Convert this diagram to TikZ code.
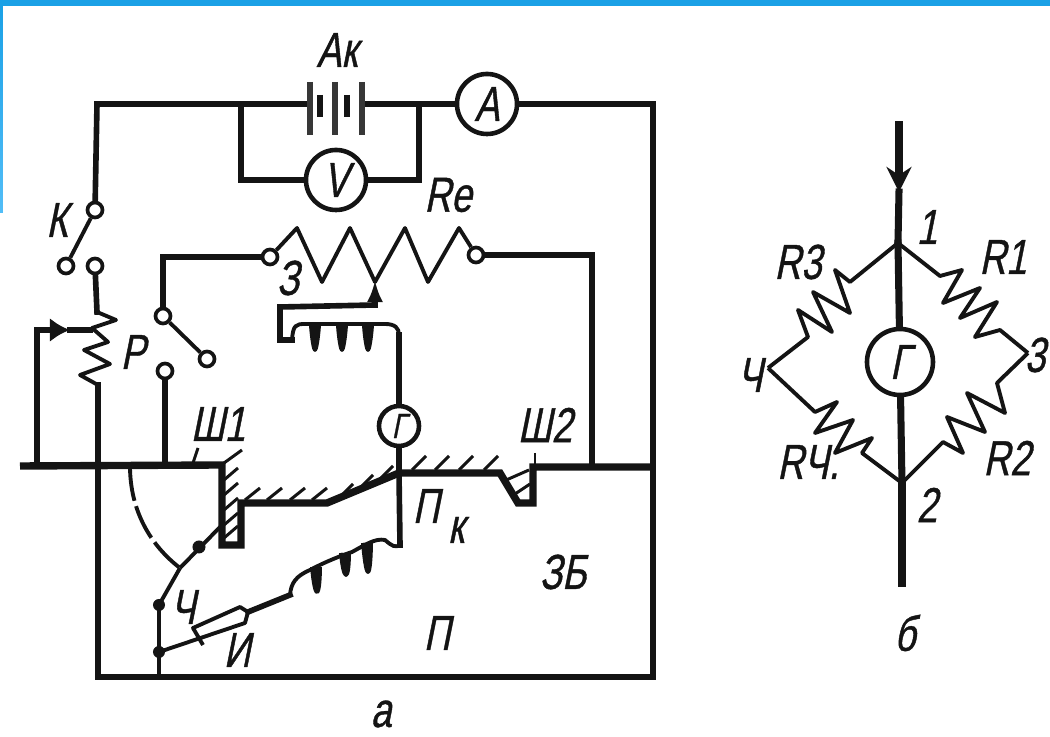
\documentclass[tikz,border=0pt]{standalone}
\usepackage{fontspec}
\newfontfamily\sketchfont[FakeStretch=0.75,FakeSlant=0.2,FakeBold=0.8]{Liberation Sans}
\usetikzlibrary{arrows.meta}
\definecolor{barblue}{HTML}{1BA1E6}
\definecolor{barlight}{HTML}{52BDF7}
\definecolor{ink}{HTML}{141414}
\begin{document}
\begin{tikzpicture}
  [x=.01cm,y=-.01cm,every node/.style={font=\sketchfont\fontsize{14}{16}\selectfont,text=ink,inner sep=0pt},
   wire/.style={draw=ink,line width=1.6pt,line cap=rect},
   thin/.style={draw=ink,line width=1.1pt,line join=round},
   bar/.style={draw=ink,line width=2.1pt,line join=miter},
   hatch/.style={draw=ink,line width=.85pt},
   meter/.style={circle,draw=ink,line width=1.3pt,minimum size=.6cm,fill=white},
   term/.style={circle,draw=ink,line width=1.05pt,minimum size=.15cm,fill=white},
   blob/.style={circle,fill=ink,minimum size=.12cm}]
  \useasboundingbox (0,0) rectangle (1050,737);
  \fill[barblue] (0,0) rectangle (1050,6);
  \shade[top color=barblue,bottom color=barlight] (0,6) rectangle (3,213);

  % meters and terminals
  \node (ma)[meter] at (487,104) {A};
  \node (mv)[meter] at (336,180) {V};
  \node (mg)[meter,minimum size=.4cm] at (399,426) {\fontsize{10}{12}\selectfont Г};
  \node (mb)[meter,minimum size=.66cm] at (900,362) {Г};
  \node (tk)[term] at (95,210) {};
  \node (tl)[term] at (66,266) {};
  \node (tr)[term] at (95,266) {};
  \node (ts)[term] at (163,316) {};
  \node (te)[term] at (207,359) {};
  \node (tf)[term] at (165,371) {};
  \node (t3)[term] at (270,257) {};
  \node (t4)[term] at (476,255) {};

  % wire corners and junctions
  \coordinate (c1) at (97,104);
  \coordinate (c2) at (241,104);
  \coordinate (c3) at (241,180);
  \coordinate (c4) at (419,104);
  \coordinate (c5) at (419,180);
  \coordinate (c6) at (653,104);
  \coordinate (c7) at (653,677);
  \coordinate (c8) at (98,677);
  \coordinate (c9) at (98,385);
  \coordinate (c10) at (97,312);
  \coordinate (c11) at (163,257);
  \coordinate (c12) at (592,255);
  \coordinate (c13) at (592,467);
  \coordinate (c14) at (37,330);
  \coordinate (c15) at (37,465);
  \coordinate (c17) at (165,465);
  \coordinate (c18) at (159,677);
  \coordinate (c19) at (399,473);
  \coordinate (c20) at (400,545);
  \coordinate (c21) at (399,335);
  \coordinate (b1) at (310,104);
  \coordinate (b2) at (362,104);

  \foreach \from/\to in {c1/b1,c1/tk,c2/c3,c3/mv,mv/c5,c5/c4,b2/ma,ma/c6,c6/c7,c7/c8,c8/c9,
                         tr/c10,c11/ts,c11/t3,t4/c12,c12/c13,c14/c15,tf/c17,c21/mg,mg/c19,c19/c20}
    \draw[wire] (\from) -- (\to);
  \draw[thin] (tk) -- (tl);
  \draw[thin] (ts) -- (te);

  % battery
  \foreach \x in {310,335,362}
    \draw[draw=ink!85,line width=1.6pt] (\x,82) -- (\x,135);
  \foreach \x in {320,347}
    \draw[draw=ink,line width=1.8pt] (\x,95) -- (\x,117);

  % resistors
  \draw[thin] (c10) -- (116,320) -- (92,328) -- (108,342) -- (84,350) -- (110,364) -- (80,375) -- (c9);
  \draw[thin] (t3) -- (297,228) -- (322,282) -- (350,228) -- (375,282) -- (405,228) -- (428,282) -- (459,228) -- (t4);

  % sliders
  \coordinate (s1) at (70,330);
  \coordinate (s2) at (90,330);
  \coordinate (s3) at (375,305);
  \coordinate (s4) at (375,280);
  \coordinate (s5) at (280,307);
  \coordinate (s6) at (280,340);
  \coordinate (s7) at (292,340);
  \draw[wire,-{Latex[length=.2cm,width=.24cm]}] (c14) -- (s1);
  \draw[wire] (s1) -- (s2);
  \draw[wire,-{Latex[length=.22cm,width=.16cm]}] (s3) -- (s4);
  \draw[wire] (s3) -- (s5) -- (s6) -- (s7);

  % upper coil
  \draw[thin] (s7) .. controls (293,325) and (296,324) .. (305,324) -- (385,324) .. controls (395,324) and (399,328) .. (c21);
  \foreach \x in {315,342,368}
    \draw[thin,fill=ink] (\x-4,326) .. controls (\x-3,340) and (\x-1,350) .. (\x,350) .. controls (\x+1,350) and (\x+3,340) .. (\x+4,326);

  % main bar and plate
  \coordinate (p1) at (222,465);
  \coordinate (p2) at (20,466);
  \draw[bar] (p2) -- (p1) -- (222,545) -- (241,545) -- (241,503) -- (327,503) -- (c19) -- (500,473) -- (518,503) -- (533,503) -- (533,467) -- (c7 |- c13);
  \foreach \x in {253,275,298,320}
    \draw[hatch] (\x-8,500) -- (\x+7,488);
  \foreach \x/\y in {340/497,360/488,380/479}
    \draw[hatch] (\x,\y) -- (\x+13,\y-13);
  \foreach \x in {412,435,459,484}
    \draw[hatch] (\x,470) -- (\x+14,456);
  \foreach \y in {480,495,510,525,538}
    \draw[hatch] (224,\y) -- (238,\y-12);
  \draw[hatch] (224,463) -- (242,450);
  \draw[hatch] (504,481) -- (529,470);
  \draw[hatch] (512,496) -- (530,484);

  % couple wires
  \coordinate (d1) at (130,466);
  \coordinate (d2) at (180,568);
  \coordinate (d3) at (222,525);
  \coordinate (d4) at (159,652);
  \coordinate (d5) at (159,605);
  \coordinate (d6) at (248,612);
  \coordinate (d7) at (290,595);
  \draw[thin,dash pattern=on 10pt off 1.6pt] (d1) .. controls (130,510) and (150,545) .. (d2);
  \draw[thin] (d2) -- (d3);
  \draw[thin] (d2) -- (d5) -- (d4) -- (c18);
  \node (b3)[blob,minimum size=.13cm] at (199,547) {};
  \node (b4)[blob] at (d5) {};
  \node (b5)[blob] at (d4) {};

  % heater
  \draw[thin] (d4) -- (245,623) -- (d6) -- (240,607) -- (193,628) -- (203,645);
  \draw[wire] (d6) -- (d7);

  % lower coil
  \draw[thin] (d7) .. controls (291,583) and (296,576) .. (310,570) .. controls (325,562) and (340,556) .. (352,552) .. controls (365,545) and (375,538) .. (385,540) .. controls (392,546) and (395,548) .. (c20);
  \foreach \x/\y/\z in {316/567/592,345/553/575,367/543/572}
    \draw[thin,fill=ink] (\x-4,\y) .. controls (\x-3,\y+12) and (\x-1,\z) .. (\x+1,\z) .. controls (\x+3,\z) and (\x+4,\y+12) .. (\x+4,\y);

  % bridge
  \coordinate (j1) at (898,243);
  \coordinate (j2) at (902,483);
  \coordinate (j3) at (1028,353);
  \coordinate (j4) at (768,368);
  \coordinate (a1) at (899,125);
  \coordinate (a2) at (899,192);
  \coordinate (a3) at (902,583);
  \draw[wire,line width=2pt,-{Stealth[length=.25cm,width=.25cm]}] (a1) -- (a2);
  \foreach \from/\to in {a2/j1,j1/mb,mb/j2,j2/a3}
    \draw[wire,line width=2pt] (\from) -- (\to);
  \draw[thin] (j1) -- (850,282) -- (835,270) -- (850,313) -- (813,292) -- (832,332) -- (798,310) -- (808,337) -- (j4);
  \draw[thin] (j1) -- (940,276) -- (962,270) -- (943,303) -- (980,288) -- (960,318) -- (997,302) -- (975,337) -- (1000,330) -- (j3);
  \draw[thin] (j3) -- (997,383) -- (1005,413) -- (967,393) -- (985,432) -- (947,417) -- (963,453) -- (943,442) -- (j2);
  \draw[thin] (j4) -- (815,412) -- (837,402) -- (815,433) -- (853,420) -- (835,453) -- (872,438) -- (862,453) -- (j2);

  % labels
  \node (lak) at (337,50) {Ак};
  \node (lk) at (57,220) {К};
  \node (lre) at (448,195) {Re};
  \node (l3) at (288,278) {З};
  \node (lp) at (133,352) {Р};
  \node (lsh1) at (218,424) {Ш1};
  \node (lsh2) at (545,425) {Ш2};
  \node (lpk) at (426,506) {П};
  \node (lkk) at (456,530) {к};
  \node (lzb) at (563,572) {ЗБ};
  \node (lpp) at (437,633) {П};
  \node (lch) at (183,607) {Ч};
  \node (li) at (237,650) {И};
  \node (la) at (381,714) {а};
  \node (r1) at (927,227) {1};
  \node (r2) at (927,505) {2};
  \node (r3) at (1035,355) {3};
  \node (r4) at (750,375) {Ч};
  \node (lr1) at (1003,257) {R1};
  \node (lr2) at (1007,458) {R2};
  \node (lr3) at (798,262) {R3};
  \node (lr4) at (808,462) {RЧ.};
  \node (lb) at (905,633) {б};
  \draw[hatch] (lsh1) ++(-20,24) -- (193,463);
  \draw[hatch] (lsh2) ++(-10,28) -- (535,467);
\end{tikzpicture}
\end{document}
